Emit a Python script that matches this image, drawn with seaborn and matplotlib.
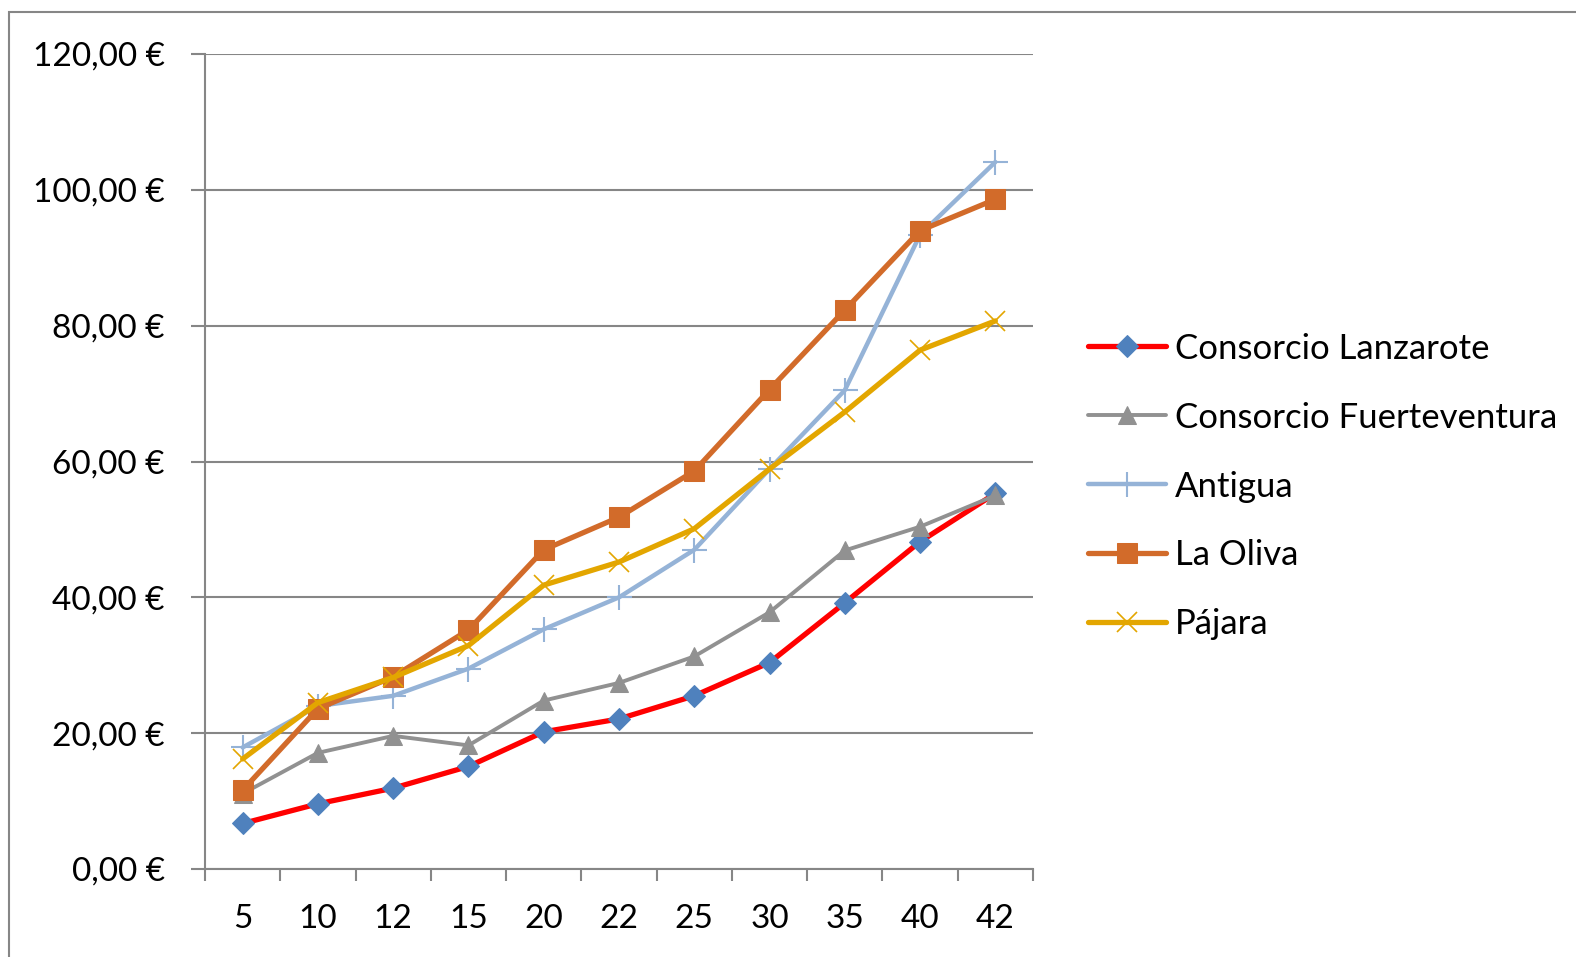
import matplotlib
matplotlib.use("Agg")
import matplotlib.pyplot as plt
import matplotlib.ticker as mticker
from matplotlib.patches import Rectangle
import seaborn as sns
import pandas as pd

categories = ["5", "10", "12", "15", "20", "22", "25", "30", "35", "40", "42"]
lanzarote = [6.7, 9.6, 11.9, 15.1, 20.2, 22.1, 25.5, 30.4, 39.2, 48.2, 55.3]
fuerteventura = [11.1, 17.1, 19.6, 18.2, 24.8, 27.4, 31.3, 37.8, 46.9, 50.4, 55.0]
antigua = [17.9, 24.0, 25.5, 29.5, 35.3, 40.0, 47.0, 58.9, 70.5, 93.4, 104.1]
la_oliva = [11.6, 23.6, 28.3, 35.2, 47.0, 51.8, 58.6, 70.6, 82.3, 94.0, 98.6]
pajara = [16.2, 24.5, 28.2, 32.9, 41.8, 45.2, 50.1, 58.9, 67.3, 76.4, 80.7]
series_names = ["Consorcio Lanzarote", "Consorcio Fuerteventura", "Antigua", "La Oliva", "Pájara"]
y_ticks = [0, 20, 40, 60, 80, 100, 120]

sns.set_theme(style="white")
plt.rcParams["font.family"] = ["Lato", "DejaVu Sans"]

W, H = 1576, 957
fig = plt.figure(figsize=(W / 100, H / 100), dpi=100)
ax = fig.add_axes([205 / W, 1 - 869 / H, (1033 - 205) / W, (869 - 54) / H])

styles = [
    dict(color="#FF0000", lw=3.8, marker="D", ms=11, mfc="#4F81BD", mec="#4F81BD"),
    dict(color="#919191", lw=2.8, marker="^", ms=13, mfc="#919191", mec="#919191"),
    dict(color="#95B3D7", lw=3.2, marker="+", ms=18, mfc="#95B3D7", mec="#95B3D7", mew=1.5),
    dict(color="#D26B2A", lw=3.8, marker="s", ms=14, mfc="#D26B2A", mec="#D26B2A"),
    dict(color="#E3A600", lw=3.8, marker="x", ms=14, mfc="#E3A600", mec="#E3A600", mew=1.2),
]
data = [lanzarote, fuerteventura, antigua, la_oliva, pajara]
for name, vals, st in zip(series_names, data, styles):
    df = pd.DataFrame({"cat": categories, "val": vals})
    st = dict(st)
    color = st.pop("color")
    sns.lineplot(data=df, x="cat", y="val", ax=ax, color=color, label=name,
                 sort=False, **st)

ax.set_xlim(-0.5, len(categories) - 0.5)
ax.set_ylim(0, 120)
ax.set_yticks(y_ticks)
ax.yaxis.set_major_formatter(mticker.FuncFormatter(lambda v, p: f"{v:.2f}".replace(".", ",") + " €"))
ax.set_xlabel("")
ax.set_ylabel("")

gc = "#868686"
ax.grid(axis="y", color=gc, lw=1.5)
ax.grid(axis="x", visible=False)
for s in ["top", "right"]:
    ax.spines[s].set_visible(False)
for s in ["left", "bottom"]:
    ax.spines[s].set_color(gc)
    ax.spines[s].set_linewidth(1.5)

ax.set_xticks(range(len(categories)))
ax.set_xticklabels(categories)
ax.xaxis.set_minor_locator(mticker.FixedLocator([i - 0.5 for i in range(len(categories) + 1)]))
ax.tick_params(axis="x", which="major", length=0, pad=25.5, labelsize=24, colors="black")
ax.tick_params(axis="x", which="minor", length=8.6, width=1.5, color=gc, direction="out", bottom=True)
ax.tick_params(axis="y", which="major", length=10, width=1.5, color=gc, direction="out", left=True,
               pad=19, labelsize=24, labelcolor="black")

leg = ax.legend(loc="center left", bbox_to_anchor=(1088 / W, 1 - 486.5 / H),
                bbox_transform=fig.transFigure, frameon=False, fontsize=25,
                handlelength=2.25, handletextpad=0.26, labelspacing=1.065,
                borderpad=0, borderaxespad=0)
for t in leg.get_texts():
    t.set_color("black")

fig.patches.append(Rectangle((9 / W, -0.1), 1.2, 1 - 12 / H + 0.1, transform=fig.transFigure,
                             fill=False, edgecolor=gc, lw=1.5))

fig.savefig("out.png", dpi=100)
